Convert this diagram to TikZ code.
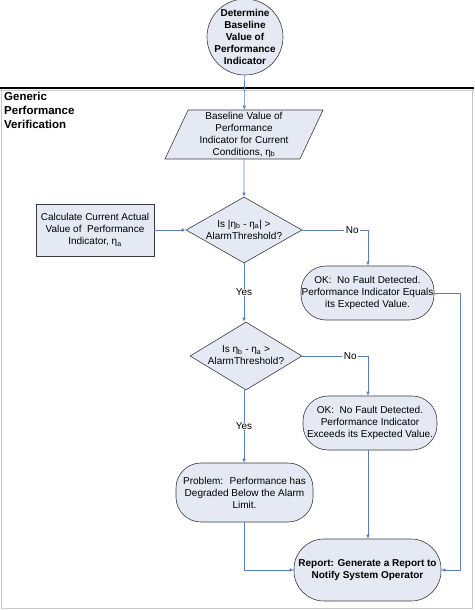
\documentclass[tikz,border=0pt]{standalone}
\usepackage{fontspec}
\setmainfont{Liberation Sans}
\usetikzlibrary{shapes.geometric,arrows.meta}
\definecolor{boxfill}{HTML}{E4E9F4}
\definecolor{boxline}{HTML}{3A3A3A}
\definecolor{flowblue}{HTML}{5B7FBC}
\definecolor{framegray}{HTML}{C8C8C8}
\begin{document}
\begin{tikzpicture}[x=1pt, y=-1pt,
    every node/.style={font=\fontsize{10}{12}\selectfont, align=center, inner sep=0pt},
    shapebox/.style={draw=boxline, fill=boxfill, line width=0.6pt},
    process/.style={shapebox, rectangle, minimum width=118pt, minimum height=52pt},
    terminal/.style={shapebox, rectangle, rounded corners=25pt},
    decision/.style={shapebox, diamond, minimum width=#1, minimum height=66pt},
    io/.style={shapebox, trapezium, trapezium left angle=63, trapezium right angle=117,
        trapezium stretches body, minimum width=158pt, minimum height=49pt},
    startnode/.style={shapebox, circle, minimum size=76pt},
    boldtext/.style={font=\bfseries\fontsize{10}{12}\selectfont},
    flow/.style={draw=flowblue, line width=0.6pt, -{Latex[length=4pt,width=3.5pt]}},
    answer/.style={fill=white, inner xsep=1.5pt}]
    \useasboundingbox (0,0) rectangle (474,610);

    % frame of the verification block
    \draw[framegray, line width=1.5pt] (1.5,89) -- (1.5,608.5) -- (472.5,608.5) -- (472.5,89);
    \draw[framegray, line width=0.8pt] (0,90.5) -- (474,90.5);
    \draw[black, line width=1.6pt] (0,88) -- (474,88);
    \node[anchor=north west, align=left, font=\bfseries\fontsize{11.5}{14}\selectfont] (title) at (4,91.5)
        {Generic\\Performance\\Verification};

    % shapes
    \node[startnode] (start) at (245,37) {};
    \node[boldtext] (starttxt) at (start) {Determine\\Baseline\\Value of\\Performance\\Indicator};

    \node[io] (base) at (244,134.5) {Baseline Value of\\Performance\\Indicator for Current\\Conditions, η\textsubscript{b}};

    \node[process] (calc) at (95,230) {Calculate Current Actual\\Value of~ Performance\\Indicator, η\textsubscript{a}};

    \node[decision=116pt] (dec1) at (244,230) {};
    \node (dec1txt) at (244,229.5) {Is |η\textsubscript{b} - η\textsubscript{a}| >\\AlarmThreshold?};

    \node[decision=112pt, minimum height=68pt] (dec2) at (246,356) {};
    \node (dec2txt) at (246,355.5) {Is η\textsubscript{b} - η\textsubscript{a} >\\AlarmThreshold?};

    \node[terminal, minimum width=133pt, minimum height=54pt] (okeq) at (367.5,293)
        {OK:~ No Fault Detected.\\Performance Indicator Equals\\its Expected Value.};
    \node[terminal, minimum width=134pt, minimum height=54pt] (okex) at (370,423)
        {OK:~ No Fault Detected.\\Performance Indicator\\Exceeds its Expected Value.};
    \node[terminal, minimum width=137pt, minimum height=59pt] (problem) at (244.5,492.5)
        {Problem:~ Performance has\\Degraded Below the Alarm\\Limit.};
    \node[terminal, boldtext, minimum width=147pt, minimum height=62pt, rounded corners=30pt] (report) at (367.5,570)
        {Report: Generate a Report to\\Notify System Operator};

    % connectors
    \draw[flow] (start) -- (base);
    \draw[flow] (base) -- (dec1);
    \draw[flow] (calc) -- (dec1);
    \draw[flow] (dec1.east) -- node[answer, pos=0.76] (no1) {No} (368,230) -- (368,230 |- okeq.north);
    \draw[flow] (dec1.south) -- node[answer] (yes1) {Yes} (dec2.north -| dec1.south);
    \draw[flow] (dec2.east) -- node[answer, pos=0.73] (no2) {No} (368,356) -- (368,356 |- okex.north);
    \draw[flow] (dec2.south -| dec1.south) -- node[answer, pos=0.5] (yes2) {Yes} (problem.north -| dec1.south);
    \draw[flow] (okeq.east) -- (460,293) -- (460,570) -- (report.east);
    \draw[flow] (okex.south -| 368,0) -- (report.north -| 368,0);
    \draw[flow] (problem.south -| dec1.south) -- (244,570) -- (report.west);
\end{tikzpicture}
\end{document}
